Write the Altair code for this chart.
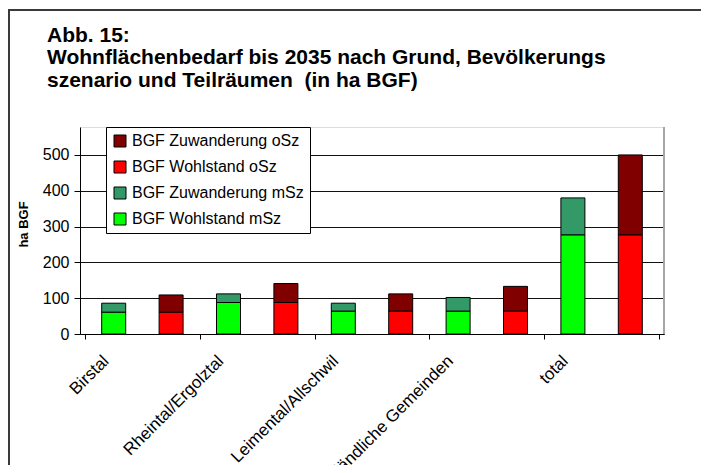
import altair as alt
import pandas as pd

# ---- data ----
regions = ["Birstal", "Rheintal/Ergolztal", "Leimental/Allschwil", "ländliche Gemeinden", "total"]
wohlstand_msz = [61, 88, 64, 64, 277]
zuwanderung_msz = [25, 24, 22, 38, 103]
wohlstand_osz = [61, 88, 64, 64, 277]
zuwanderung_osz = [48, 53, 48, 69, 223]

series_order = ["BGF Zuwanderung oSz", "BGF Wohlstand oSz", "BGF Zuwanderung mSz", "BGF Wohlstand mSz"]
series_colors = ["#800000", "#ff0000", "#339966", "#00ff00"]
y_ticks = [0, 100, 200, 300, 400, 500]
title_lines = ["Abb. 15:",
               "Wohnflächenbedarf bis 2035 nach Grund, Bevölkerungs",
               "szenario und Teilräumen\u00a0 (in ha BGF)"]

rows = []
for i, r in enumerate(regions):
    rows.append({"region": r, "pos": 2 * i + 0.5, "series": "BGF Wohlstand mSz", "layer": 0, "value": wohlstand_msz[i]})
    rows.append({"region": r, "pos": 2 * i + 0.5, "series": "BGF Zuwanderung mSz", "layer": 1, "value": zuwanderung_msz[i]})
    rows.append({"region": r, "pos": 2 * i + 1.5, "series": "BGF Wohlstand oSz", "layer": 0, "value": wohlstand_osz[i]})
    rows.append({"region": r, "pos": 2 * i + 1.5, "series": "BGF Zuwanderung oSz", "layer": 1, "value": zuwanderung_osz[i]})
df = pd.DataFrame(rows)

W, H = 584, 207
FONT = "Liberation Sans"
n_slots = 2 * len(regions)

axis_vals = []
for i in range(len(regions)):
    axis_vals += [2 * i, 2 * i + 0.5]
axis_vals.append(n_slots)

names_js = "[" + ",".join("'" + r + "'" for r in regions) + "]"
label_expr = f"datum.value % 1 === 0 ? '' : {names_js}[floor(datum.value / 2)]"

bars = alt.Chart(df).mark_bar(size=24, stroke="black", strokeWidth=1).encode(
    x=alt.X("pos:Q",
            scale=alt.Scale(domain=[0, n_slots], nice=False, zero=False),
            axis=alt.Axis(values=axis_vals, labelExpr=label_expr, grid=False,
                          tickOpacity={"condition": {"test": "datum.value % 1 === 0", "value": 1}, "value": 0},
                          tickSize=5, tickColor="black", domainColor="black",
                          labelAngle=-45, labelAlign="right", labelBaseline="middle",
                          labelPadding=19, labelOffset=-8,
                          labelFont=FONT, labelFontSize=17, labelColor="black",
                          labelOverlap=False, labelLimit=0, title=None)),
    y=alt.Y("value:Q", stack="zero",
            scale=alt.Scale(domain=[0, 578], nice=False),
            axis=alt.Axis(values=y_ticks, grid=True, gridColor="#111111", gridWidth=1,
                          tickSize=6, tickColor="black", domainColor="black",
                          labelPadding=5, labelFont=FONT, labelFontSize=16, labelColor="black",
                          title="ha BGF", titleFont=FONT, titleFontSize=13, titleFontWeight="bold",
                          titleColor="black", titlePadding=12, titleY=97)),
    color=alt.Color("series:N",
                    scale=alt.Scale(domain=series_order, range=series_colors),
                    legend=alt.Legend(title=None, orient="none", legendX=26, legendY=0,
                                      fillColor="white", strokeColor="black", padding=6,
                                      rowPadding=10, symbolType="square", symbolSize=144,
                                      symbolStrokeColor="black", symbolStrokeWidth=1,
                                      symbolOpacity=1, labelFont=FONT, labelFontSize=16,
                                      labelColor="black", labelOffset=4, labelLimit=0)),
    order=alt.Order("layer:Q"),
)

plot_border = alt.Chart(df).mark_rule(color="#a6a6a6", strokeWidth=2).encode(
    x=alt.value(W), y=alt.value(0), y2=alt.value(H))

frame_top = alt.Chart(df).mark_rule(color="#3a3a3a", strokeWidth=2).encode(
    x=alt.value(-72), x2=alt.value(W + 40), y=alt.value(-117))
frame_left = alt.Chart(df).mark_rule(color="#3a3a3a", strokeWidth=2).encode(
    x=alt.value(-71), y=alt.value(-118), y2=alt.value(H + 140))

title_baselines = [-85, -63, -40]
title_layers = [
    alt.Chart(pd.DataFrame({"t": [line]})).mark_text(
        align="left", baseline="alphabetic", font=FONT, fontSize=21,
        fontWeight="bold", color="black").encode(
        x=alt.value(-33), y=alt.value(yb), text="t:N")
    for line, yb in zip(title_lines, title_baselines)
]

chart = alt.layer(bars, plot_border, frame_top, frame_left, *title_layers).properties(
    width=W, height=H,
    autosize=alt.AutoSizeParams(type="none"),
    padding={"left": 72, "top": 119, "right": 37, "bottom": 131},
).configure_view(stroke=None).configure(background="white")

chart.save("out.html", embed_options={"renderer": "svg", "actions": False})
